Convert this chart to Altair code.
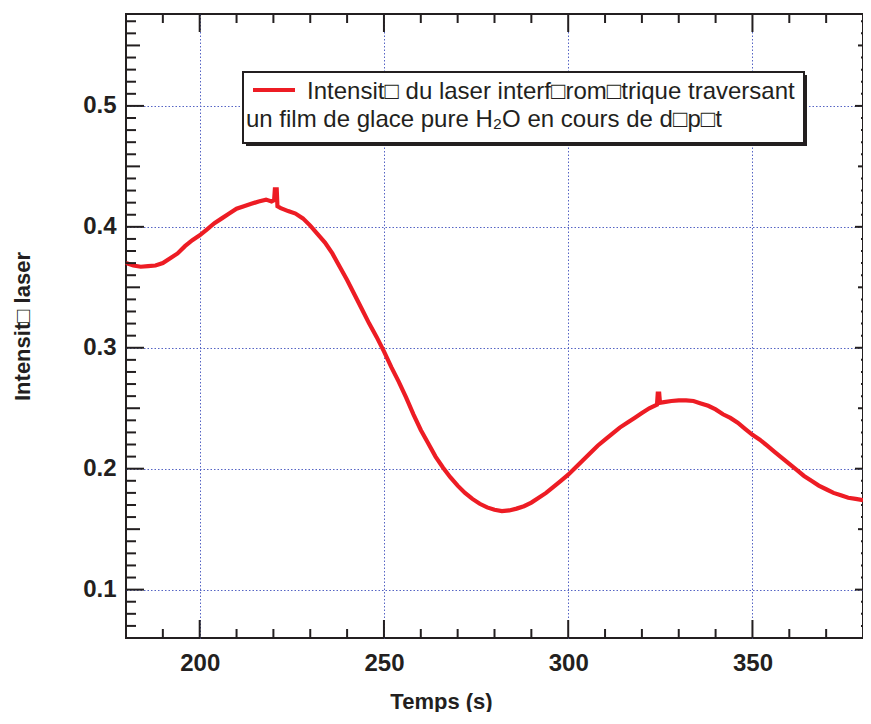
import altair as alt
import pandas as pd

# ---- data ----
time = [180, 182, 184, 186, 188, 190, 192, 194, 196, 198, 200, 202, 204, 206, 208,
        210, 212, 214, 216, 218, 219.5, 220.2, 220.4, 220.9, 221.1, 222, 224, 226,
        228, 230, 232, 234, 236, 238, 240, 242, 244, 246, 248, 250, 252, 254, 256,
        258, 260, 262, 264, 266, 268, 270, 272, 274, 276, 278, 280, 282, 284, 286,
        288, 290, 292, 294, 296, 298, 300, 302, 304, 306, 308, 310, 312, 314, 316,
        318, 320, 322, 324.1, 324.3, 324.7, 324.9, 326, 328, 330, 332, 334, 336,
        338, 340, 342, 344, 346, 348, 350, 352, 354, 356, 358, 360, 362, 364, 366,
        368, 370, 372, 374, 376, 378, 380]
intensity = [0.370, 0.368, 0.367, 0.3675, 0.368, 0.370, 0.374, 0.378, 0.384, 0.389,
             0.393, 0.398, 0.403, 0.407, 0.411, 0.415, 0.417, 0.419, 0.421, 0.4225,
             0.421, 0.422, 0.431, 0.431, 0.417, 0.4155, 0.413, 0.411, 0.407, 0.401,
             0.394, 0.387, 0.378, 0.367, 0.356, 0.344, 0.332, 0.320, 0.309, 0.297,
             0.284, 0.272, 0.259, 0.245, 0.232, 0.221, 0.210, 0.201, 0.193, 0.186,
             0.180, 0.175, 0.171, 0.168, 0.166, 0.165, 0.1655, 0.167, 0.169, 0.172,
             0.176, 0.180, 0.185, 0.190, 0.195, 0.201, 0.207, 0.213, 0.219, 0.224,
             0.229, 0.234, 0.238, 0.242, 0.246, 0.250, 0.253, 0.262, 0.262, 0.2545,
             0.255, 0.256, 0.2565, 0.2565, 0.256, 0.254, 0.252, 0.249, 0.245, 0.242,
             0.238, 0.233, 0.228, 0.224, 0.219, 0.214, 0.209, 0.204, 0.199, 0.194,
             0.190, 0.186, 0.183, 0.180, 0.178, 0.176, 0.175, 0.174]

x_major = [200, 250, 300, 350]
x_minor = [190, 210, 220, 230, 240, 260, 270, 280, 290, 310, 320, 330, 340, 360, 370]
y_major = [0.1, 0.2, 0.3, 0.4, 0.5]
y_mid = [0.15, 0.25, 0.35, 0.45, 0.55]
y_minor = [round(0.06 + 0.01 * i, 2) for i in range(52)
           if round((0.06 + 0.01 * i) * 100) % 5 != 0]

legend_line1 = "Intensit\u25a1 du laser interf\u25a1rom\u25a1trique traversant"
legend_line2 = "un film de glace pure H\u2082O en cours de d\u25a1p\u25a1t"
x_title = "Temps (s)"
y_title = "Intensit\u25a1 laser"

W, H = 737, 624
DARK = "#231f20"
RED = "#ed1c24"
GRID = "#5564c4"
FONT = "Liberation Sans"

xs = alt.Scale(domain=[180, 380], nice=False, zero=False)
ys = alt.Scale(domain=[0.06, 0.576], nice=False, zero=False)

x_axis = alt.Axis(
    values=x_major, format="d", ticks=False, domain=False, grid=True,
    gridColor=GRID, gridDash=[1.5, 2], gridWidth=1,
    labelFont=FONT, labelFontSize=24, labelFontWeight="bold", labelColor=DARK,
    labelPadding=13, title=x_title, titleFont=FONT, titleFontSize=22,
    titleFontWeight="bold", titleColor=DARK, titleX=315, titleY=63,
    titleBaseline="middle", titleAlign="center")
y_axis = alt.Axis(
    values=y_major, format=".1f", ticks=False, domain=False, grid=True,
    gridColor=GRID, gridDash=[1.5, 2], gridWidth=1,
    labelFont=FONT, labelFontSize=24, labelFontWeight="bold", labelColor=DARK,
    labelPadding=10, title=y_title, titleFont=FONT, titleFontSize=22,
    titleFontWeight="bold", titleColor=DARK, titleX=-104, titleY=312,
    titleAngle=270, titleBaseline="middle", titleAlign="center")

df = pd.DataFrame({"time": time, "intensity": intensity})

line = alt.Chart(df).mark_line(color=RED, strokeWidth=4.2).encode(
    x=alt.X("time:Q", scale=xs, axis=x_axis),
    y=alt.Y("intensity:Q", scale=ys, axis=y_axis),
)


def xticks(vals, y0, y1):
    return alt.Chart(pd.DataFrame({"time": vals})).mark_rule(
        color=DARK, strokeWidth=2).encode(
        x=alt.X("time:Q", scale=xs, axis=x_axis),
        y=alt.value(y0), y2=alt.value(y1))


def yticks(vals, x0, x1):
    return alt.Chart(pd.DataFrame({"intensity": vals})).mark_rule(
        color=DARK, strokeWidth=2).encode(
        y=alt.Y("intensity:Q", scale=ys, axis=y_axis),
        x=alt.value(x0), x2=alt.value(x1))


ticks = [
    xticks(x_major, H, H - 18), xticks(x_minor, H, H - 9),
    xticks(x_major, 0, 18), xticks(x_minor, 0, 9),
    yticks(y_major, 0, 18), yticks(y_mid, 0, 14), yticks(y_minor, 0, 10),
    yticks(y_major, W, W - 8), yticks(y_mid, W, W - 5), yticks(y_minor, W, W - 2),
]

leg_df = pd.DataFrame({"k": [0]})
shadow = alt.Chart(leg_df).mark_rect(color=DARK).encode(
    x=alt.value(120), x2=alt.value(681), y=alt.value(61), y2=alt.value(132))
box = alt.Chart(leg_df).mark_rect(fill="white", stroke=DARK, strokeWidth=2).encode(
    x=alt.value(117), x2=alt.value(678), y=alt.value(58), y2=alt.value(129))
sample = alt.Chart(leg_df).mark_rule(color=RED, strokeWidth=4.2).encode(
    x=alt.value(127), x2=alt.value(169), y=alt.value(76))
t1 = alt.Chart(leg_df).mark_text(
    text=legend_line1, font=FONT, fontSize=24, color=DARK, align="left",
    baseline="alphabetic").encode(x=alt.value(181), y=alt.value(85))
t2 = alt.Chart(leg_df).mark_text(
    text=legend_line2, font=FONT, fontSize=24, color=DARK, align="left",
    baseline="alphabetic").encode(x=alt.value(120), y=alt.value(113))

chart = alt.layer(line, *ticks, shadow, box, sample, t1, t2).properties(
    width=W, height=H, background="white",
    padding={"left": 118, "top": 6, "right": 0, "bottom": 74},
    autosize=alt.AutoSizeParams(type="none"),
).configure_view(stroke=DARK, strokeWidth=2)

chart.save("out.html", embed_options={"renderer": "svg", "actions": False})
